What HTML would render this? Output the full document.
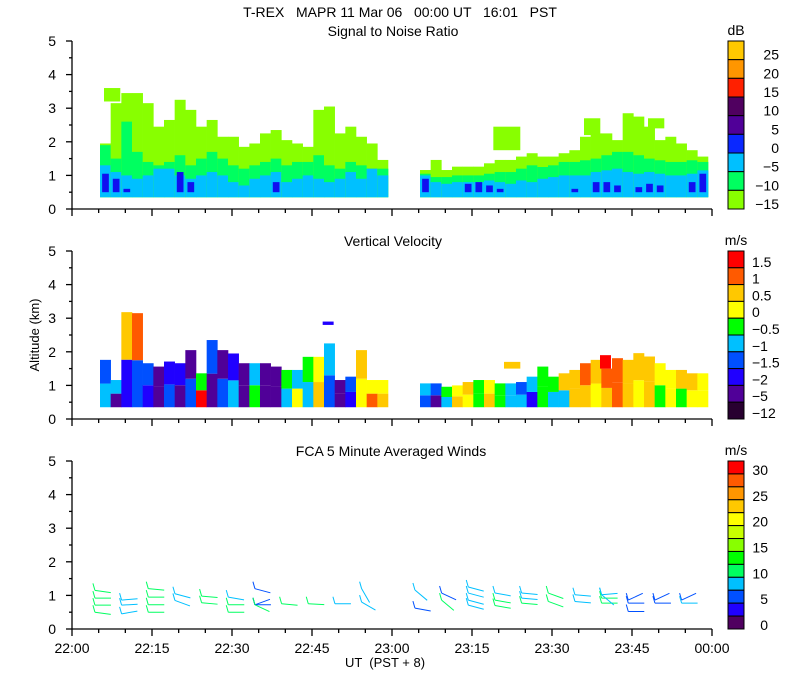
<!DOCTYPE html>
<html><head><meta charset="utf-8">
<style>
html,body{margin:0;padding:0;background:#fff;}
svg{display:block;font-family:"Liberation Sans",sans-serif;}
text{fill:#000;}
</style></head>
<body>
<svg id="chart" width="800" height="700" viewBox="0 0 800 700" xmlns="http://www.w3.org/2000/svg">
<text x="400" y="17" font-size="14" text-anchor="middle" xml:space="preserve">T-REX   MAPR 11 Mar 06   00:00 UT   16:01   PST</text>
<text x="393" y="36" font-size="14" text-anchor="middle">Signal to Noise Ratio</text>
<text x="393" y="246" font-size="14" text-anchor="middle">Vertical Velocity</text>
<text x="391" y="456" font-size="14" text-anchor="middle">FCA 5 Minute Averaged Winds</text>
<text x="0" y="0" font-size="13" text-anchor="middle" transform="translate(39,335) rotate(-90)">Altitude (km)</text>
<text x="385" y="667" font-size="13" text-anchor="middle" xml:space="preserve">UT  (PST + 8)</text>
<g id="layer"></g>
</svg>
<script>
// ---------- data ----------
const segStarts = [5.25, 65.25];   // minutes after 22:00
const colMinutes = 2;
const baseKm = 0.35;
const snrTopM15 = [1.95,3.15,3.45,3.45,3.15,2.45,2.65,3.25,2.95,2.45,2.65,2.15,2.15,1.85,1.95,2.25,2.35,2.05,1.95,1.85,2.95,3.05,2.25,2.45,2.15,1.95,1.46,
                   1.16,1.46,1.16,1.26,1.26,1.26,1.36,1.46,1.46,1.56,1.66,1.56,1.56,1.66,1.75,2.15,2.25,2.25,2.05,2.85,2.75,2.45,2.05,2.15,1.95,1.75,1.56];
const snrTopM10 = [1.9,1.5,2.6,1.7,1.4,1.3,1.4,1.6,1.3,1.5,1.7,1.5,1.3,1.2,1.3,1.4,1.5,1.3,1.4,1.4,1.6,1.3,1.2,1.4,1.3,1.2,1.2,
                   1.05,0.95,0.95,1.0,1.0,1.0,1.05,1.1,1.1,1.2,1.3,1.25,1.3,1.4,1.4,1.45,1.5,1.6,1.7,1.7,1.6,1.5,1.45,1.4,1.4,1.45,1.4];
const snrTopM5 = [1.3,1.1,1.0,0.9,1.0,1.2,1.2,1.0,0.9,1.0,1.1,1.0,0.8,0.7,0.9,1.0,1.1,0.8,0.9,1.0,0.9,0.8,0.9,1.1,0.9,1.2,1.0,
                  1.0,0.8,0.75,0.8,0.8,0.8,0.85,0.8,0.75,0.85,0.8,0.9,0.95,1.0,1.0,1.0,1.1,1.15,1.2,1.1,1.05,1.1,1.05,1.0,1.0,1.05,1.15];
const snrTop0 = [1.05,0.9,0.6,0,0,0,0.5,1.1,0.8,0,0,0.5,0,0,0,0,0.8,0,0,0,0,0,0,0,0,0,0,
                 0.9,0.5,0,0.5,0.75,0.8,0.7,0.6,0,0.5,0,0,0.5,0,0.6,0,0.8,0.8,0.7,0.5,0.65,0.75,0.7,0,0.5,0.8,1.05];
const snrPatches = [[79,84,1.75,2.45],[96,99,2.2,2.7],[108,111,2.4,2.7],[6,9,3.2,3.6]];
const velTop = [1.76,1.16,3.18,3.15,1.66,1.56,1.71,1.66,2.05,1.36,2.35,2.05,1.95,1.66,1.66,1.66,1.56,1.46,1.46,1.85,1.85,2.25,1.16,1.26,2.05,1.16,1.16,
                1.06,1.06,0.96,1.0,1.1,1.16,1.16,1.06,1.06,1.1,1.26,1.56,1.26,1.36,1.46,1.66,1.76,1.5,1.81,1.76,1.96,1.86,1.66,1.46,1.46,1.36,1.36];
const velLow = [-1,-5,-2,-1.5,-2,-5,-1.5,-5,-1.5,1.5,-5,-1.5,-1,-5,-0.5,-5,-5,-1,0,-1,0.5,-1.5,-5,-2,0,1,0.5,
                -1.5,-5,-1,0.5,0,-0.5,0.5,-0.5,-1,-1,-2,-0.5,-1,-1,0.5,0.5,0,0.5,1,0.5,0,0.5,-0.5,0,-0.5,0,0];
const velHigh = [-1.5,-1,0.5,1,-1.5,-5,-2,-2,-5,-0.5,-1.5,-5,-2,-5,-1,-5,-5,-0.5,-1,-0.5,0,-1,-5,-1.5,0.5,0,0,
                 -1,-1.5,-0.5,0,0.5,-0.5,0,-0.5,-1,-1.5,-1,-0.5,-0.5,0.5,0.5,1,0.5,1,1,0.5,0.5,0.5,0,0,0.5,0.5,0];
const velPatches = [[81,84,1.5,1.7,0.5],[99,101,1.5,1.9,1.5],[47,49,2.8,2.9,-2]];
const barbTime = [4.3,4.3,4.3,4.3, 9.3,9.3,9.3, 14.3,14.3,14.3,14.3, 19.3,19.3, 24.3,24.3, 29.3,29.3,29.3, 34.3,34.3,34.3,34.3, 39.3, 44.3, 49.3, 54.3,54.3,
                  64.3,64.3, 69.3,69.3, 74.3,74.3,74.3,74.3, 79.3,79.3,79.3, 84.3,84.3,84.3, 89.3,89.3, 94.3,94.3, 99.3,99.3,99.3,99.3, 104.3,104.3,104.3, 109.3,109.3, 114.3,114.3];
const barbKm = [1.15,0.92,0.71,0.5, 0.86,0.71,0.45, 1.2,0.95,0.72,0.5, 1.05,0.85, 0.98,0.78, 0.95,0.72,0.5, 1.2,0.72,0.72,0.72, 0.75, 0.75, 0.75, 1.2,0.8,
                1.16,0.62, 1.07,0.86, 1.25,1.07,0.86,0.71, 1.07,0.86,0.7, 1.07,0.92,0.77, 1.07,0.82, 1.02,0.82, 1.02,0.92,0.77,1.02, 0.86,0.77,0.52, 0.86,0.77, 0.86,0.77];
const barbSpeed = [11,11,11,11, 9,9,9, 11,11,11,11, 9,9, 11,11, 9,11,11, 6,5,6,11, 10, 11, 9, 9,9,
                   8,6, 6,11, 9,9,9,9, 9,11,11, 9,9,11, 11,11, 9,9, 9,11,11,9, 6,6,6, 6,6, 6,9];
const barbDir = [8,0,0,8, -5,-3,-10, 5,0,0,0, 15,20, 5,5, 10,0,0, 15,0,-20,25, 5, 3, 0, 60,30,
                 40,10, 25,40, 15,15,15,15, 10,10,10, 5,5,5, 20,20, 5,5, -5,0,0,40, -25,0,0, -25,0, -25,0];
const snrLabs = ["25","20","15","10","5","0","\u22125","\u221210","\u221215"];
const snrColors = ["#ffc800","#ff9600","#ff2000","#500060","#500098","#0a28ff","#00c0ff","#00ff60","#88ff00"];
const velLabels = ["1.5","1","0.5","0","\u22120.5","\u22121","\u22121.5","\u22122","\u22125","\u221212"];
const velColors = ["#ff0000","#ff5a00","#ffc800","#ffff00","#00ff00","#00c0ff","#0050ff","#2000ff","#500098","#280030"];
const velThresh = [1.5,1,0.5,0,-0.5,-1,-1.5,-2,-5];
const windLabels = ["30","25","20","15","10","5","0"];
const windColors = ["#ff0000","#ff5a00","#ff9600","#ffc800","#ffff00","#c8ff00","#88ff00","#00ff00","#00ff60","#00c0ff","#0050ff","#2000ff","#500060"];
const xTickLabels = ["22:00","22:15","22:30","22:45","23:00","23:15","23:30","23:45","00:00"];
const yTickLabels = ["0","1","2","3","4","5"];

// ---------- helpers ----------
const NS = "http://www.w3.org/2000/svg";
const layer = document.getElementById("layer");
function mk(tag, attrs, parent){
  const e = document.createElementNS(NS, tag);
  for (const k in attrs) e.setAttribute(k, attrs[k]);
  (parent||layer).appendChild(e);
  return e;
}
const X0 = 72, X1 = 712;
const xScale = m => X0 + m * (X1 - X0) / 120;
const panels = [{top:41,bottom:209},{top:251,bottom:419},{top:461,bottom:629}];
const yScale = (p, km) => panels[p].bottom - km * (panels[p].bottom - panels[p].top) / 5;
function colTime(i){ const s = i < 27 ? 0 : 1; return segStarts[s] + (i - s*27) * colMinutes; }
function velColor(v){ for (let k=0;k<velThresh.length;k++) if (v >= velThresh[k]) return velColors[k]; return velColors[velColors.length-1]; }
function windColor(s){ let idx = Math.floor(s/2.5); idx = Math.max(0, Math.min(12, idx)); return windColors[12-idx]; }
function rectKm(p, t0, t1, k0, k1, fill, name){
  if (k1 <= k0) return;
  const r = mk("rect", {x:xScale(t0), y:yScale(p,k1), width:xScale(t1)-xScale(t0)+0.3, height:yScale(p,k0)-yScale(p,k1), fill:fill});
  
  
}

for (let i=0;i<snrTopM15.length;i++){
  const t = colTime(i), t1 = t + colMinutes;
  rectKm(0,t,t1,baseKm,snrTopM15[i],snrColors[8],'snr-cell');
  rectKm(0,t,t1,baseKm,snrTopM10[i],snrColors[7],'snr-cell');
  rectKm(0,t,t1,baseKm,snrTopM5[i],snrColors[6],'snr-cell');
  if (snrTop0[i] > baseKm) rectKm(0,t+0.4,t1-0.4,baseKm+0.15,snrTop0[i],"#1010f0",'snr-cell');
}
snrPatches.forEach(p => rectKm(0,p[0],p[1],p[2],p[3],snrColors[8],'snr-patch'));

for (let i=0;i<velTop.length;i++){
  const t = colTime(i), t1 = t + colMinutes;
  const mid = baseKm + (velTop[i]-baseKm)/2;
  rectKm(1,t,t1,baseKm,mid,velColor(velLow[i]),'velocity-cell');
  rectKm(1,t,t1,mid,velTop[i],velColor(velHigh[i]),'velocity-cell');
}
velPatches.forEach(p => rectKm(1,p[0],p[1],p[2],p[3],velColor(p[4]),'velocity-patch'));

for (let i=0;i<barbTime.length;i++){
  const x = xScale(barbTime[i]), y = yScale(2, barbKm[i]);
  const a = barbDir[i]*Math.PI/180, L = 16;
  const c = windColor(barbSpeed[i]);
  const g = mk("g", {stroke:c, "stroke-width":1, fill:"none"});
  
  
  mk("line", {x1:x, y1:y, x2:x+L*Math.cos(a), y2:y+L*Math.sin(a)}, g);
  mk("line", {x1:x, y1:y, x2:x-2, y2:y-7}, g);
}

panels.forEach((p, pi) => {
  const ax = mk("g", {stroke:"#000","stroke-width":1.3});
  
  
  mk("line", {x1:X0, y1:p.top, x2:X0, y2:p.bottom}, ax);
  mk("line", {x1:X0, y1:p.bottom, x2:X1, y2:p.bottom}, ax);
  for (let k=0;k<=10;k++){
    const yy = yScale(pi, k/2);
    mk("line", {x1:X0-(k%2===0?6:3), y1:yy, x2:X0, y2:yy}, ax);
  }
  for (let m=0;m<=120;m+=5){
    const xx = xScale(m);
    mk("line", {x1:xx, y1:p.bottom, x2:xx, y2:p.bottom+(m%15===0?7:4)}, ax);
  }
  yTickLabels.forEach((lab, k) => {
    const tl = mk("text", {x:56, y:yScale(pi,k)+5, "font-size":14, "text-anchor":"end"});
    tl.textContent = lab;
    
    
  });
});
xTickLabels.forEach((lab, k) => {
  const tl = mk("text", {x:xScale(k*15), y:653, "font-size":14, "text-anchor":"middle"});
  tl.textContent = lab;
  
  
});

function colorbar(top, bottom, colors, unit, name){
  const g = mk("g", {});
  
  
  const h = (bottom-top)/colors.length;
  colors.forEach((c,k) => {
    const r = mk("rect", {x:728, y:top+k*h, width:16, height:h, fill:c, stroke:"#000", "stroke-width":1}, g);
    
    
  });
  const u = mk("text", {x:736, y:top-6, "font-size":14, "text-anchor":"middle"}, g);
  u.textContent = unit;
  
  
  return {g,h};
}
const cb1 = colorbar(41, 209, snrColors, "dB", "snr-colorbar");
snrLabs.forEach((lab,k) => {
  const t = mk("text", {x:779, y:41+(k+1)*cb1.h, "font-size":14, "text-anchor":"end"}, cb1.g);
  t.textContent = lab;
  
  
});
const cb2 = colorbar(251, 419, velColors, "m/s", "velocity-colorbar");
velLabels.forEach((lab,k) => {
  const t = mk("text", {x:752, y:251+(k+1)*cb2.h-1, "font-size":14, "text-anchor":"start"}, cb2.g);
  t.textContent = lab;
  
  
});
const cb3 = colorbar(461, 629, windColors, "m/s", "wind-colorbar");
windLabels.forEach((lab,k) => {
  const t = mk("text", {x:768, y:461+cb3.h+k*2*cb3.h+1, "font-size":14, "text-anchor":"end"}, cb3.g);
  t.textContent = lab;
  
  
});
</script>
</body></html>
